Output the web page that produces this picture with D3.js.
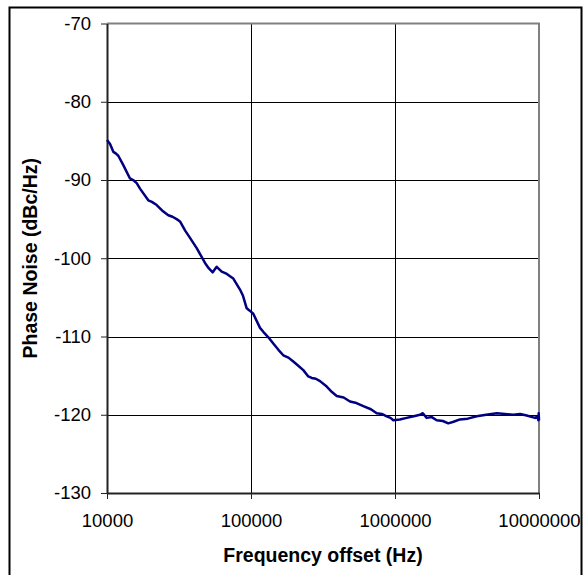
<!DOCTYPE html>
<html>
<head>
<meta charset="utf-8">
<script src="https://cdn.jsdelivr.net/npm/d3@7"></script>
<style>
  html, body { margin: 0; padding: 0; background: #fff; }
  svg { display: block; }
  text { font-family: "Liberation Sans", Arial, sans-serif; }
</style>
</head>
<body>
<svg id="chart" width="584" height="575"></svg>
<script>
// ---- data ----
const freqHz = [10000, 10500, 11060, 11500, 11980, 12980, 14440, 15200, 16080, 16950, 19350, 20500, 22140,
  24500, 26650, 28500, 30480, 32130, 35000, 37710, 41970, 47930, 51000, 54200, 57780, 62590, 68000, 71500,
  75370, 83860, 88000, 93350, 98000, 103700, 115500, 121700, 132000, 142800, 155000, 167600, 182000, 196700, 212000, 230800,
  250000, 264000, 282000, 301500, 335600, 365000, 393700, 440000, 487000, 540000, 602600, 680000, 746400, 810000, 875800, 930000, 973200, 1080000, 1206000,
  1350000, 1492000, 1560000, 1660000, 1800000, 1948000, 2150000, 2345000, 2550000, 2828000, 3200000, 3694000, 4300000, 5085000, 5800000, 6630000, 7400000, 8214000, 9378000,
  9800000, 9900000, 9950000, 10000000];
const phaseNoise = [-84.9, -85.4, -86.4, -86.6, -86.9, -88.1, -89.8, -90.0, -90.4, -91.1, -92.6, -92.8, -93.2,
  -94.0, -94.5, -94.7, -95.0, -95.3, -96.5, -97.4, -98.7, -100.6, -101.3, -101.8, -101.1, -101.7, -102.0, -102.3,
  -102.6, -104.0, -104.8, -106.4, -106.7, -107.1, -108.9, -109.4, -110.1, -110.9, -111.7, -112.4, -112.7, -113.2, -113.7, -114.3,
  -115.1, -115.3, -115.4, -115.7, -116.4, -117.1, -117.6, -117.8, -118.3, -118.5, -118.9, -119.3, -119.8, -119.9, -120.2, -120.4, -120.7, -120.6, -120.4,
  -120.2, -120.0, -119.8, -120.4, -120.3, -120.7, -120.8, -121.1, -120.9, -120.6, -120.5, -120.2, -120.0, -119.8, -119.9, -120.0, -119.9, -120.1, -120.4,
  -120.2, -120.7, -119.8, -120.7];
const xTicks = [10000, 100000, 1000000, 10000000];
const xTickLabels = ["10000", "100000", "1000000", "10000000"];
const yTicks = [-130, -120, -110, -100, -90, -80, -70];
const yTickLabels = ["-130", "-120", "-110", "-100", "-90", "-80", "-70"];
const xTitle = "Frequency offset (Hz)";
const yTitle = "Phase Noise (dBc/Hz)";

// ---- layout ----
const svg = d3.select("#chart");
const plot = { left: 107, right: 539, top: 23.5, bottom: 493 };

svg.append("rect").attr("x", 9.5).attr("y", 7.5).attr("width", 572).attr("height", 600)
  .attr("fill", "#fff").attr("stroke", "#000").attr("stroke-width", 2);

const x = d3.scaleLog().domain([1e4, 1e7]).range([plot.left, plot.right]);
const y = d3.scaleLinear().domain([-130, -70]).range([plot.bottom, plot.top]);

// gridlines
svg.append("g").selectAll("line").data(yTicks.filter(d => d > -130 && d < -70)).join("line")
  .attr("x1", plot.left).attr("x2", plot.right)
  .attr("y1", d => Math.round(y(d)) + 0.5).attr("y2", d => Math.round(y(d)) + 0.5)
  .attr("stroke", "#000").attr("stroke-width", 1);
svg.append("g").selectAll("line").data(xTicks.filter(d => d > 1e4 && d < 1e7)).join("line")
  .attr("x1", d => Math.round(x(d)) + 0.5).attr("x2", d => Math.round(x(d)) + 0.5)
  .attr("y1", plot.top).attr("y2", plot.bottom)
  .attr("stroke", "#000").attr("stroke-width", 1);

// plot border (top/right gray)
svg.append("path")
  .attr("d", `M${plot.left},${plot.top}H${plot.right}V${plot.bottom}`)
  .attr("fill", "none").attr("stroke", "#808080").attr("stroke-width", 2);

// axes
const xAxis = d3.axisBottom(x).tickValues(xTicks).tickFormat((d, i) => xTickLabels[i])
  .tickSizeInner(6).tickSizeOuter(0).tickPadding(15);
const gx = svg.append("g").attr("transform", `translate(0,${plot.bottom})`).call(xAxis);
gx.select(".domain").attr("stroke", "#222").attr("stroke-width", 2);
gx.selectAll(".tick line").attr("stroke", "#222").attr("stroke-width", 1);
gx.selectAll(".tick text").attr("font-size", 18.5).attr("fill", "#000")
  .attr("font-family", "Liberation Sans, Arial, sans-serif");

const yAxis = d3.axisLeft(y).tickValues(yTicks).tickFormat((d, i) => yTickLabels[i])
  .tickSizeInner(6).tickSizeOuter(0).tickPadding(10);
const gy = svg.append("g").attr("transform", `translate(${plot.left},0)`).call(yAxis);
gy.select(".domain").attr("stroke", "#222").attr("stroke-width", 2);
gy.selectAll(".tick line").attr("stroke", "#222").attr("stroke-width", 1);
gy.selectAll(".tick text").attr("font-size", 18.5).attr("fill", "#000")
  .attr("font-family", "Liberation Sans, Arial, sans-serif");

// curve
const pts = freqHz.map((f, i) => [f, phaseNoise[i]]);
svg.append("path").datum(pts)
  .attr("d", d3.line().x(d => x(d[0])).y(d => y(d[1])))
  .attr("fill", "none").attr("stroke", "#000080").attr("stroke-width", 2.5)
  .attr("stroke-linejoin", "round");

// titles
svg.append("text").attr("x", (plot.left + plot.right) / 2).attr("y", 562)
  .attr("text-anchor", "middle").attr("font-size", 19.5).attr("font-weight", "bold")
  .text(xTitle);
svg.append("text").attr("transform", `translate(37,${(plot.top + plot.bottom) / 2}) rotate(-90)`)
  .attr("text-anchor", "middle").attr("font-size", 19.5).attr("font-weight", "bold")
  .text(yTitle);
</script>
</body>
</html>
